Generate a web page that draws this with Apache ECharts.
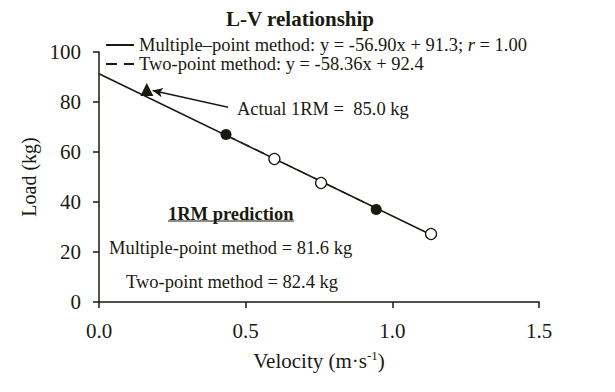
<!DOCTYPE html>
<html><head><meta charset="utf-8">
<script src="https://cdn.jsdelivr.net/npm/echarts@6/dist/echarts.min.js"></script>
<style>html,body{margin:0;padding:0;background:#fff}#c{width:615px;height:392px}</style>
</head><body><div id="c"></div>
<script>
const xTicks = [0, 0.5, 1.0, 1.5];
const yTicks = [0, 20, 40, 60, 80, 100];
const multiLine = [[0, 91.3], [1.132, 26.9]];
const twoLine = [[0.433, 66.8], [0.945, 37.5]];
const filledPts = [[0.433, 67.0], [0.945, 37.0]];
const openPts = [[0.598, 57.2], [0.757, 47.6], [1.132, 27.2]];
const actual1RM = [[0.163, 85.0]];
const arrowFrom = [0.44, 77.9];
const arrowTo = [0.183, 84.6];

const F = '"Liberation Serif","Times New Roman",serif';
const C = '#1a1a10';
const FS = 18.5;
const chart = echarts.init(document.getElementById('c'), null, {renderer: 'svg'});
chart.setOption({
  backgroundColor: '#fff',
  animation: false,
  title: {text: 'L-V relationship', left: 295, top: 3, textAlign: 'center',
    textStyle: {fontFamily: F, fontSize: 21, fontWeight: 'bold', color: C}},
  grid: {left: 99, right: 76, top: 52, bottom: 90},
  xAxis: {type: 'value', min: 0, max: 1.5, interval: 0.5,
    name: '{a|Velocity (m·s}{b|-1}{a|)}', nameLocation: 'middle', nameGap: 47,
    nameTextStyle: {fontFamily: F, color: C, rich: {
      a: {fontFamily: F, fontSize: 21, color: C},
      b: {fontFamily: F, fontSize: 13, color: C, verticalAlign: 'top', padding: [0, 0, 10, 0]}}},
    axisLine: {lineStyle: {color: C, width: 1.5}},
    axisTick: {show: true, inside: false, length: 6, lineStyle: {color: C, width: 1.5}},
    axisLabel: {fontFamily: F, fontSize: 21, color: C, margin: 18,
      formatter: v => v.toFixed(1)},
    splitLine: {show: false}},
  yAxis: {type: 'value', min: 0, max: 100, interval: 20,
    name: 'Load (kg)', nameLocation: 'middle', nameGap: 54, nameRotate: 90,
    nameTextStyle: {fontFamily: F, fontSize: 20, color: C},
    axisLine: {show: true, lineStyle: {color: C, width: 1.5}},
    axisTick: {show: true, inside: false, length: 6, lineStyle: {color: C, width: 1.5}},
    axisLabel: {fontFamily: F, fontSize: 21, color: C, margin: 18},
    splitLine: {show: false}},
  series: [
    {type: 'line', data: twoLine, symbol: 'none', z: 2,
      lineStyle: {color: C, width: 1.2, type: [10, 6]}},
    {type: 'line', data: multiLine, symbol: 'none', z: 3,
      lineStyle: {color: C, width: 1.5}},
    {type: 'scatter', data: openPts, symbol: 'circle', symbolSize: 11, z: 5,
      itemStyle: {color: '#fff', borderColor: C, borderWidth: 1.3, opacity: 1}},
    {type: 'scatter', data: filledPts, symbol: 'circle', symbolSize: 11, z: 5,
      itemStyle: {color: C, opacity: 1}},
    {type: 'scatter', data: actual1RM, symbol: 'triangle', symbolSize: 13, z: 5,
      itemStyle: {color: C, opacity: 1},
      markLine: {silent: true, symbol: ['none', 'arrow'], symbolSize: [7, 10],
        label: {show: false}, lineStyle: {color: C, width: 1.3, type: 'solid'},
        data: [[{coord: arrowFrom}, {coord: arrowTo}]]}}
  ],
  graphic: [
    {type: 'line', shape: {x1: 106, y1: 45, x2: 134, y2: 45}, style: {stroke: C, lineWidth: 2}},
    {type: 'line', shape: {x1: 106, y1: 64, x2: 117, y2: 64}, style: {stroke: C, lineWidth: 2}},
    {type: 'line', shape: {x1: 124, y1: 64, x2: 134, y2: 64}, style: {stroke: C, lineWidth: 2}},
    {type: 'text', left: 139, top: 35, style: {
      text: '{a|Multiple–point method: y = -56.90x + 91.3; }{i|r}{a| = 1.00}',
      rich: {a: {fontFamily: F, fontSize: FS, fill: C}, i: {fontFamily: F, fontSize: FS, fontStyle: 'italic', fill: C}}}},
    {type: 'text', left: 139, top: 54, style: {text: 'Two-point method: y = -58.36x + 92.4', font: FS + 'px ' + F, fill: C}},
    {type: 'text', left: 237, top: 99, style: {text: 'Actual 1RM =  85.0 kg', font: FS + 'px ' + F, fill: C}},
    {type: 'text', left: 168, top: 204, style: {text: '1RM prediction', font: 'bold ' + FS + 'px ' + F, fill: C}},
    {type: 'line', shape: {x1: 168, y1: 221, x2: 294, y2: 221}, style: {stroke: C, lineWidth: 1.2}},
    {type: 'text', left: 109, top: 238, style: {text: 'Multiple-point method = 81.6 kg', font: FS + 'px ' + F, fill: C}},
    {type: 'text', left: 126, top: 272, style: {text: 'Two-point method = 82.4 kg', font: FS + 'px ' + F, fill: C}}
  ]
});
</script></body></html>
